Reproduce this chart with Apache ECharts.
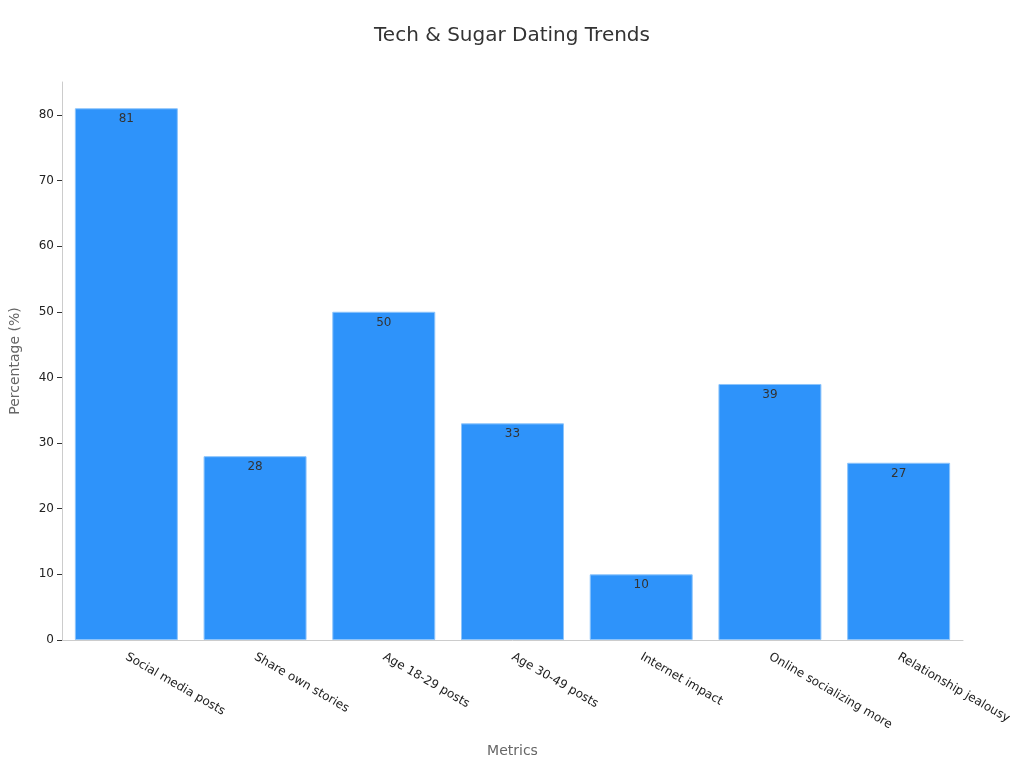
<!DOCTYPE html>
<html><head><meta charset="utf-8">
<script src="https://cdn.jsdelivr.net/npm/echarts@6/dist/echarts.min.js"></script>
<style>html,body{margin:0;padding:0;background:#fff}#c{width:1024px;height:768px}</style>
</head><body><div id="c"></div>
<script>
const categories = ["Social media posts","Share own stories","Age 18-29 posts","Age 30-49 posts","Internet impact","Online socializing more","Relationship jealousy"];
const values = [81,28,50,33,10,39,27];
const chart = echarts.init(document.getElementById('c'));
chart.setOption({
  backgroundColor:'#fff',
  title:{text:'Tech & Sugar Dating Trends',left:'center',top:21,textStyle:{fontFamily:'DejaVu Sans',fontSize:20,fontWeight:'normal',color:'#333'}},
  grid:{left:59,right:61,top:82,bottom:128},
  xAxis:{type:'category',data:categories,name:'Metrics',nameLocation:'middle',nameGap:104,
    nameTextStyle:{fontFamily:'DejaVu Sans',fontSize:14,color:'#666'},
    axisLine:{lineStyle:{color:'#ccc'}},axisTick:{alignWithLabel:true,lineStyle:{color:'#333'}},
    axisLabel:{rotate:-30,fontFamily:'DejaVu Sans',fontSize:12,color:'#222',margin:16,align:'left'}},
  yAxis:{type:'value',min:0,max:85,interval:10,name:'Percentage (%)',nameLocation:'middle',nameGap:40,
    nameTextStyle:{fontFamily:'DejaVu Sans',fontSize:14,color:'#666'},
    axisLine:{show:true,lineStyle:{color:'#ccc'}},axisTick:{show:true,lineStyle:{color:'#333'}},
    splitLine:{show:false},
    axisLabel:{fontFamily:'DejaVu Sans',fontSize:12,color:'#222',showMaxLabel:false}},
  series:[{type:'bar',data:values,barWidth:'80%',
    itemStyle:{color:'#2E93FA',borderColor:'#8cc4fb',borderWidth:1},
    label:{show:true,position:'insideTop',fontFamily:'DejaVu Sans',fontSize:12,color:'#333'}}]
});
</script></body></html>
